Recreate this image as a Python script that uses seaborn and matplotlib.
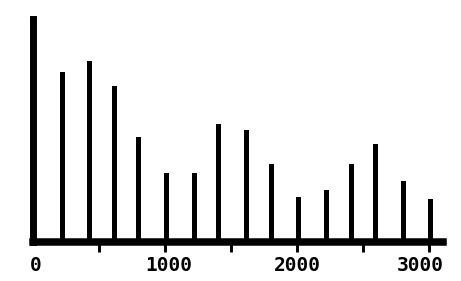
import pandas as pd
import matplotlib
matplotlib.use("Agg")
import matplotlib.pyplot as plt
import matplotlib.transforms as mtrans
import seaborn as sns

# stem positions and heights
pos = [220, 430, 615, 800, 1010, 1220, 1405, 1610, 1800, 2010, 2220, 2405, 2590, 2800, 3005]
val = [76, 81, 70, 47, 31, 31, 53, 50, 35, 20, 23, 35, 44, 27, 19]
tick_pos = [0, 500, 1000, 1500, 2000, 2500, 3000]
tick_lab = ['0', '', '1000', '', '2000', '', '3000']

df = pd.DataFrame({'x': pos, 'y': val})

sns.set_theme(style="white")
plt.rcParams['font.family'] = ['DejaVu Sans Mono', 'DejaVu Sans']

W, H = 461, 281
fig = plt.figure(figsize=(W / 100, H / 100), dpi=100)
# axes placed in pixels: left 32.5, right 442.5, top 19, bottom 241.5
ax = fig.add_axes([32.5 / W, (H - 241.5) / H, (442.5 - 32.5) / W, (241.5 - 19) / H])

ax.vlines(df['x'], 0, df['y'], colors='black', linewidth=2.2, antialiased=False)

ax.set_xlim(0, (442.5 - 32.5) / 0.1323)
ax.set_ylim(0, 100)

sns.despine(ax=ax, top=True, right=True)
ax.spines['left'].set_linewidth(5.0)
ax.spines['bottom'].set_linewidth(5.4)
ax.spines['left'].set_color('black')
ax.spines['bottom'].set_color('black')
ax.spines['bottom'].set_capstyle('projecting')

ax.set_yticks([])
ax.set_xticks(tick_pos)
ax.set_xticklabels(tick_lab, fontsize=14, fontweight='bold')
ax.tick_params(axis='x', direction='out', length=7.2, width=2.1, color='black',
               pad=3.5, bottom=True, labelcolor='black')
ax.set_xlabel('')
ax.set_ylabel('')

# no tick mark at 0, the left spine sits there
ax.xaxis.get_major_ticks()[0].tick1line.set_visible(False)

# nudge labels as in the picture (pixels)
shifts = {0: 3.5, 2: 3.5, 6: -9}
for i, lab in enumerate(ax.get_xticklabels()):
    if i in shifts:
        lab.set_transform(lab.get_transform() +
                          mtrans.ScaledTranslation(shifts[i] / 100, 0, fig.dpi_scale_trans))

fig.savefig('out.png', dpi=100)
